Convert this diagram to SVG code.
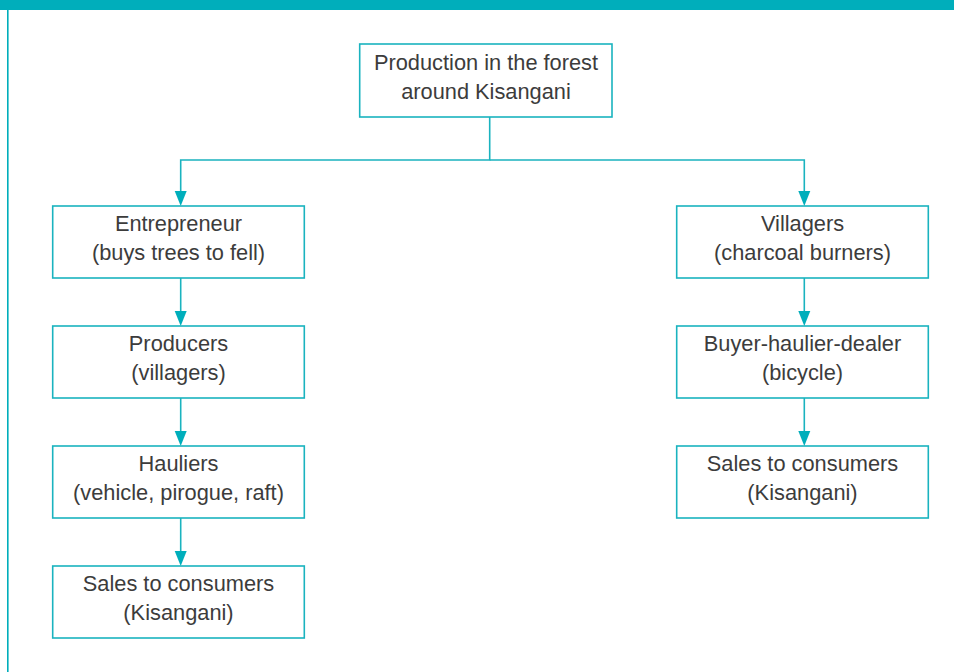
<svg xmlns="http://www.w3.org/2000/svg" width="954" height="672" viewBox="0 0 954 672">
<style>
.box{fill:#fff;stroke:#1ab3bf;stroke-width:1.6}
.t{font-family:"Liberation Sans",Arial,sans-serif;font-size:21.8px;fill:#3c3c3c;text-anchor:middle}
.c{fill:none;stroke:#1ab3bf;stroke-width:1.6}
.ah{fill:#00aebb}
</style>
<rect x="0" y="0" width="954" height="10" fill="#00aebb"/>
<rect x="7" y="10" width="1.6" height="662" fill="#00aebb"/>
<g id="connectors">
<path class="c" d="M489.7,117 V160 H180.7 V192"/>
<path class="c" d="M489.7,160 H804.3 V192"/>
<path class="ah" d="M174.7,191 h12 l-6,15 z"/>
<path class="ah" d="M798.3,191 h12 l-6,15 z"/>
<path class="c" d="M180.7,278 V312"/><path class="ah" d="M174.7,311 h12 l-6,15 z"/>
<path class="c" d="M180.7,398 V432"/><path class="ah" d="M174.7,431 h12 l-6,15 z"/>
<path class="c" d="M180.7,518 V552"/><path class="ah" d="M174.7,551 h12 l-6,15 z"/>
<path class="c" d="M804.3,278 V312"/><path class="ah" d="M798.3,311 h12 l-6,15 z"/>
<path class="c" d="M804.3,398 V432"/><path class="ah" d="M798.3,431 h12 l-6,15 z"/>
</g>
<g id="top"><rect class="box" x="359.7" y="44" width="252.3" height="73"/>
<text class="t" x="486" y="70">Production in the forest</text><text class="t" x="486" y="99">around Kisangani</text></g>
<g id="entrepreneur"><rect class="box" x="52.7" y="206" width="251.6" height="72"/>
<text class="t" x="178.5" y="231">Entrepreneur</text><text class="t" x="178.5" y="260">(buys trees to fell)</text></g>
<g id="producers"><rect class="box" x="52.7" y="326" width="251.6" height="72"/>
<text class="t" x="178.5" y="351">Producers</text><text class="t" x="178.5" y="380">(villagers)</text></g>
<g id="hauliers"><rect class="box" x="52.7" y="446" width="251.6" height="72"/>
<text class="t" x="178.5" y="471">Hauliers</text><text class="t" x="178.5" y="500">(vehicle, pirogue, raft)</text></g>
<g id="sales-left"><rect class="box" x="52.7" y="566" width="251.6" height="72"/>
<text class="t" x="178.5" y="591">Sales to consumers</text><text class="t" x="178.5" y="620">(Kisangani)</text></g>
<g id="villagers"><rect class="box" x="676.7" y="206" width="251.6" height="72"/>
<text class="t" x="802.5" y="231">Villagers</text><text class="t" x="802.5" y="260">(charcoal burners)</text></g>
<g id="buyer"><rect class="box" x="676.7" y="326" width="251.6" height="72"/>
<text class="t" x="802.5" y="351">Buyer-haulier-dealer</text><text class="t" x="802.5" y="380">(bicycle)</text></g>
<g id="sales-right"><rect class="box" x="676.7" y="446" width="251.6" height="72"/>
<text class="t" x="802.5" y="471">Sales to consumers</text><text class="t" x="802.5" y="500">(Kisangani)</text></g>
</svg>
